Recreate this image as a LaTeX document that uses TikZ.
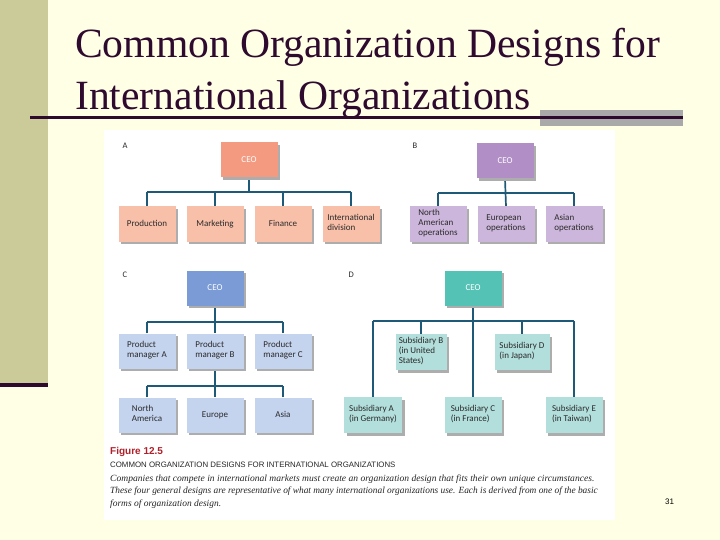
\documentclass[tikz,border=0pt]{standalone}
\usepackage{fontspec}
\setmainfont{Liberation Serif}
\newfontfamily\boxfont{Carlito}
\newfontfamily\helv{Liberation Sans}
\usetikzlibrary{shadows,backgrounds}
\definecolor{bg}{HTML}{FFFFE6}
\definecolor{barc}{HTML}{CBCB9A}
\definecolor{darkp}{HTML}{2E0A2E}
\definecolor{graybar}{HTML}{A9A9A9}
\definecolor{aceoc}{HTML}{F49A80}
\definecolor{achc}{HTML}{F9C0A9}
\definecolor{bceoc}{HTML}{B18FC6}
\definecolor{bchc}{HTML}{CDB6DC}
\definecolor{cceoc}{HTML}{7B9BD6}
\definecolor{cchc}{HTML}{C4D3EE}
\definecolor{dceoc}{HTML}{55C2B6}
\definecolor{dchc}{HTML}{B2DFDC}
\definecolor{linec}{HTML}{1E5A78}
\definecolor{boxtext}{HTML}{2A2A2A}
\definecolor{figred}{HTML}{B0202A}
\tikzset{
  orgbox/.style={minimum width=57pt, minimum height=35pt, inner sep=1pt,
    align=left, text=boxtext, font=\boxfont\fontsize{9}{10.3}\selectfont,
    execute at begin node=\strut, execute at end node=\strut,
    drop shadow={shadow xshift=2.5pt, shadow yshift=-2.5pt, fill=black!32, opacity=1}},
  ceobox/.style={orgbox, text=white},
  conn/.style={draw=linec, line width=1.7pt},
  lbl/.style={font=\boxfont\fontsize{8.5}{10}\selectfont, text=boxtext, anchor=base west},
  capit/.style={anchor=base west, inner sep=0, text=black!85, font=\itshape\fontsize{9.45}{12.5}\selectfont}
}
\begin{document}
\begin{tikzpicture}[x=1pt,y=-1pt]
\useasboundingbox (0,0) rectangle (720,540);
\begin{scope}[on background layer]
  \fill[bg] (0,0) rectangle (720,540);
  \fill[barc] (0,0) rectangle (48,383);
  \fill[darkp] (0,383) rectangle (48,387);
  \fill[white] (104,130) rectangle (615,520);
  \fill[graybar] (540,110.5) rectangle (683,126);
  \draw[darkp, line width=3pt] (30,117.3) -- (683,117.3);
\end{scope}
% title
\node[anchor=base west, inner sep=0, text=darkp, font=\fontsize{41.6}{48}\selectfont] (t1) at (75,58) {Common Organization Designs for};
\node[anchor=base west, inner sep=0, text=darkp, font=\fontsize{41.6}{48}\selectfont] (t2) at (75,110) {International Organizations};
% panel A
\node[lbl] (labA) at (119,149) {A};
\node[ceobox, fill=aceoc] (aceo) at (249,160) {CEO};
\node[orgbox, fill=achc] (a1) at (147,224) {Production};
\node[orgbox, fill=achc] (a2) at (215,224) {Marketing};
\node[orgbox, fill=achc] (a3) at (283,224) {Finance};
\node[orgbox, fill=achc] (a4) at (351,224) {International\\division};
% panel B
\node[lbl] (labB) at (409,149) {B};
\node[ceobox, fill=bceoc] (bceo) at (505,161) {CEO};
\node[orgbox, fill=bchc] (b1) at (438,224) {North\\American\\operations};
\node[orgbox, fill=bchc] (b2) at (506,224) {European\\operations};
\node[orgbox, fill=bchc] (b3) at (574,224) {Asian\\operations};
% panel C
\node[lbl] (labC) at (119,277) {C};
\node[ceobox, fill=cceoc] (cceo) at (215,288) {CEO};
\node[orgbox, fill=cchc] (c1) at (147,351) {Product\\manager A};
\node[orgbox, fill=cchc] (c2) at (215,351) {Product\\manager B};
\node[orgbox, fill=cchc] (c3) at (283,351) {Product\\manager C};
\node[orgbox, fill=cchc] (c4) at (147,415) {North\\America};
\node[orgbox, fill=cchc] (c5) at (215,415) {Europe};
\node[orgbox, fill=cchc] (c6) at (283,415) {Asia};
% panel D
\node[lbl] (labD) at (345,277) {D};
\node[ceobox, fill=dceoc] (dceo) at (473,288) {CEO};
\node[orgbox, fill=dchc, minimum width=51pt, minimum height=36pt] (dB) at (421,352) {Subsidiary B\\(in United\\States)};
\node[orgbox, fill=dchc, minimum width=55pt, minimum height=36pt] (dD) at (522,352) {Subsidiary D\\(in Japan)};
\node[orgbox, fill=dchc, minimum width=58pt, minimum height=36pt] (dA) at (373,415) {Subsidiary A\\(in Germany)};
\node[orgbox, fill=dchc, minimum width=57pt, minimum height=36pt] (dC) at (473,415) {Subsidiary C\\(in France)};
\node[orgbox, fill=dchc, minimum width=57pt, minimum height=36pt] (dE) at (574,415) {Subsidiary E\\(in Taiwan)};
% bus coordinates
\coordinate (abus) at (0,192);
\coordinate (bbus) at (0,193);
\coordinate (cbus) at (0,322);
\coordinate (cbus2) at (0,386);
\coordinate (dbus) at (0,321);
\begin{scope}[on background layer]
  % A
  \draw[conn] (aceo.south) -- (aceo.south |- abus);
  \draw[conn] (a1.north |- abus) -- (a4.north |- abus);
  \foreach \n in {a1,a2,a3,a4} \draw[conn] (\n.north) -- (\n.north |- abus);
  % B
  \draw[conn] (bceo.south) -- (b2.north);
  \draw[conn] (b1.north |- bbus) -- (b3.north |- bbus);
  \foreach \n in {b1,b3} \draw[conn] (\n.north) -- (\n.north |- bbus);
  % C
  \draw[conn] (cceo.south) -- (c2.north);
  \draw[conn] (c1.north |- cbus) -- (c3.north |- cbus);
  \foreach \n in {c1,c3} \draw[conn] (\n.north) -- (\n.north |- cbus);
  \draw[conn] (c2.south) -- (c5.north);
  \draw[conn] (c4.north |- cbus2) -- (c6.north |- cbus2);
  \foreach \n in {c4,c6} \draw[conn] (\n.north) -- (\n.north |- cbus2);
  % D
  \draw[conn] (dceo.south) -- (dC.north);
  \draw[conn] (dA.north |- dbus) -- (dE.north |- dbus);
  \foreach \n in {dA,dB,dD,dE} \draw[conn] (\n.north) -- (\n.north |- dbus);
\end{scope}
% caption
\node[anchor=base west, inner sep=0, text=figred, font=\helv\bfseries\fontsize{10}{11}\selectfont] (fig) at (110,454) {Figure 12.5};
\node[anchor=base west, inner sep=0, text=black!85, font=\helv\fontsize{7.85}{9}\selectfont] (cap) at (110,467) {COMMON ORGANIZATION DESIGNS FOR INTERNATIONAL ORGANIZATIONS};
\node[capit] (l1) at (110,481) {\scalebox{1.013}[1]{Companies that compete in international markets must create an organization design that fits their own unique circumstances.}};
\node[capit] (l2) at (110,493.5) {\scalebox{0.99}[1]{These four general designs are representative of what many international organizations use. Each is derived from one of the basic}};
\node[capit] (l3) at (110,506) {forms of organization design.};
\node[anchor=base west, inner sep=0, text=black, font=\helv\fontsize{8}{9}\selectfont] (pg) at (665,504) {31};
\end{tikzpicture}
\end{document}
